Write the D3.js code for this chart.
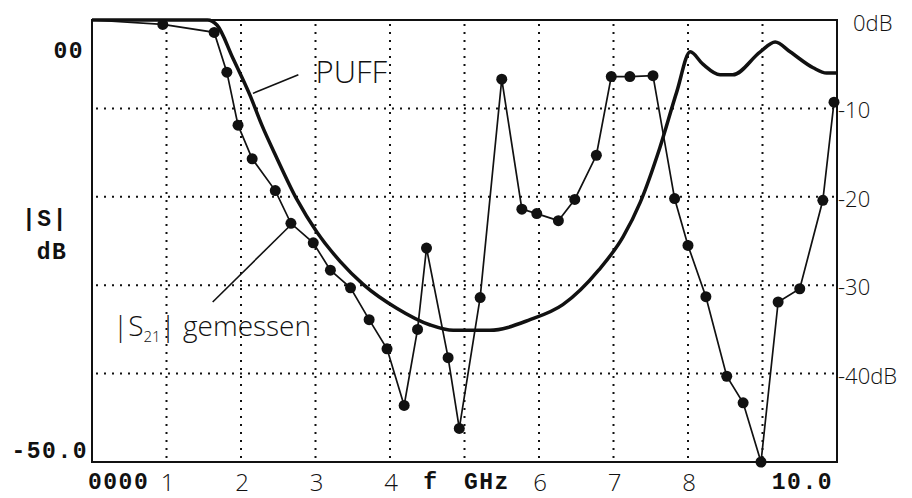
<!DOCTYPE html>
<meta charset="utf-8">
<style>
body { margin: 0; background: #fff; }
.typed { font-family: "Liberation Mono", "Courier New", monospace; font-weight: bold; font-size: 23px; letter-spacing: 1.5px; fill: #111; }
.hand { font-family: "Open Sans", "DejaVu Sans", sans-serif; font-weight: 300; fill: #111; }
.grid line { stroke: #111; stroke-width: 2; stroke-dasharray: 2,6; }
</style>
<svg width="912" height="498"></svg>
<script src="https://d3js.org/d3.v7.min.js"></script>
<script>

// measured |S21| (dots)
var freqMeas = [0, 0.95, 1.64, 1.81, 1.96, 2.15, 2.46, 2.67, 2.97, 3.20, 3.47, 3.72, 3.96, 4.19, 4.37, 4.49, 4.78, 4.93, 5.21, 5.50, 5.77, 5.97, 6.26, 6.48, 6.77, 6.97, 7.22, 7.53, 7.82, 8.00, 8.24, 8.52, 8.74, 8.98, 9.21, 9.50, 9.81, 9.96];
var s21Meas  = [0, -0.5, -1.4, -5.9, -11.9, -15.7, -19.3, -23.0, -25.2, -28.3, -30.3, -33.9, -37.2, -43.6, -35.0, -25.8, -38.2, -46.2, -31.4, -6.7, -21.4, -21.9, -22.7, -20.3, -15.3, -6.4, -6.4, -6.3, -20.2, -25.5, -31.3, -40.3, -43.3, -50.0, -31.9, -30.4, -20.4, -9.3];

// PUFF simulation (thick line)
var freqPuff = [0, 1.55, 1.68, 1.89, 2.12, 2.28, 2.48, 2.75, 3.02, 3.33, 3.64, 4.09, 4.54, 4.85, 5.34, 5.88, 6.32, 6.80, 7.13, 7.36, 7.62, 7.85, 8.03, 8.20, 8.43, 8.60, 8.97, 9.17, 9.37, 9.68, 9.86, 10];
var s21Puff  = [0, 0, -0.6, -4.3, -8.5, -11.9, -15.6, -20.3, -24.0, -27.3, -29.9, -32.6, -34.5, -35.1, -35.1, -33.9, -32.2, -28.3, -24.5, -20.6, -14.5, -8.1, -3.6, -5.0, -6.2, -6.2, -3.6, -2.5, -3.6, -5.4, -6.0, -6.0];

var xGrid = [1, 2, 3, 4, 5, 6, 7, 8, 9];
var yGrid = [-10, -20, -30, -40];
var handXTicks = [1, 2, 3, 4, 6, 7, 8];
var handXLabels = ["1", "2", "3", "4", "6", "7", "8"];
var rightTicks = [0, -10, -20, -30, -40];
var rightLabels = ["0dB", "-10", "-20", "-30", "-40dB"];

var svg = d3.select("svg");

var x = d3.scaleLinear().domain([0, 10]).range([92, 837]);
var y = d3.scaleLinear().domain([-50, 0]).range([462, 20]);

var meas = freqMeas.map(function(f, i) { return {f: f, v: s21Meas[i]}; });
var puff = freqPuff.map(function(f, i) { return {f: f, v: s21Puff[i]}; });

// grid
var grid = svg.append("g").attr("class", "grid");
grid.selectAll(".vx").data(xGrid).enter().append("line")
    .attr("x1", function(d) { return x(d); }).attr("x2", function(d) { return x(d); })
    .attr("y1", y(0) + 4).attr("y2", y(-50));
grid.selectAll(".hy").data(yGrid).enter().append("line")
    .attr("x1", x(0) + 4).attr("x2", x(10))
    .attr("y1", function(d) { return y(d); }).attr("y2", function(d) { return y(d); });

// frame
svg.append("rect")
    .attr("x", x(0)).attr("y", y(0))
    .attr("width", x(10) - x(0)).attr("height", y(-50) - y(0))
    .attr("fill", "none").attr("stroke", "#111").attr("stroke-width", 2);

var line = d3.line()
    .x(function(d) { return x(d.f); })
    .y(function(d) { return y(d.v); });

svg.append("path")
    .datum(puff)
    .attr("fill", "none").attr("stroke", "#111").attr("stroke-width", 3.5)
    .attr("stroke-linejoin", "round")
    .attr("d", line.curve(d3.curveMonotoneX));

svg.append("path")
    .datum(meas)
    .attr("fill", "none").attr("stroke", "#111").attr("stroke-width", 1.7)
    .attr("d", d3.line().x(function(d) { return x(d.f); }).y(function(d) { return y(d.v); }));

svg.append("g").selectAll("circle")
    .data(meas.filter(function(d) { return d.f > 0; }))
  .enter().append("circle")
    .attr("cx", function(d) { return x(d.f); })
    .attr("cy", function(d) { return y(d.v); })
    .attr("r", 5.5)
    .attr("fill", "#111");

// typed axis labels
svg.append("text").attr("class", "typed").attr("x", x(0) - 8).attr("y", y(0) + 38)
    .attr("text-anchor", "end").text("00");
svg.append("text").attr("class", "typed").attr("x", x(0) - 4).attr("y", y(-50) - 4)
    .attr("text-anchor", "end").text("-50.0");
svg.append("text").attr("class", "typed").attr("x", 45).attr("y", 226)
    .attr("text-anchor", "middle").text("|S|");
svg.append("text").attr("class", "typed").attr("x", 52).attr("y", 259)
    .attr("text-anchor", "middle").text("dB");
svg.append("text").attr("class", "typed").attr("x", x(0) - 4).attr("y", 489).text("0000");
svg.append("text").attr("class", "typed").attr("x", x(4.55)).attr("y", 489)
    .attr("text-anchor", "middle").text("f");
svg.append("text").attr("class", "typed").attr("x", x(5.3)).attr("y", 489)
    .attr("text-anchor", "middle").text("GHz");
svg.append("text").attr("class", "typed").attr("x", x(10) - 4).attr("y", 489)
    .attr("text-anchor", "end").text("10.0");

// handwritten tick labels
svg.append("g").selectAll("text")
    .data(handXTicks)
  .enter().append("text")
    .attr("class", "hand")
    .attr("x", function(d) { return x(d) + 1; })
    .attr("y", 491)
    .attr("text-anchor", "middle")
    .style("font-size", "24px")
    .text(function(d, i) { return handXLabels[i]; });

svg.append("g").selectAll("text")
    .data(rightTicks)
  .enter().append("text")
    .attr("class", "hand")
    .attr("x", function(d) { return d === 0 ? x(10) + 16 : x(10) + 1; })
    .attr("y", function(d) { return y(d) + (d === 0 ? 11 : 10); })
    .style("font-size", "22px")
    .text(function(d, i) { return rightLabels[i]; });

// annotations
svg.append("line")
    .attr("x1", x(2.16)).attr("y1", y(-8.3))
    .attr("x2", x(2.77)).attr("y2", y(-6.2))
    .attr("stroke", "#111").attr("stroke-width", 1.6);
svg.append("text").attr("class", "hand")
    .attr("x", x(3.0)).attr("y", 83)
    .style("font-size", "31px")
    .text("PUFF");

svg.append("line")
    .attr("x1", x(1.62)).attr("y1", y(-31.9))
    .attr("x2", x(2.63)).attr("y2", y(-23.5))
    .attr("stroke", "#111").attr("stroke-width", 1.6);
var lab = svg.append("text").attr("class", "hand")
    .attr("x", 113).attr("y", 336)
    .style("font-size", "28px");
lab.append("tspan").text("|S");
lab.append("tspan").attr("dy", 6).style("font-size", "15px").text("21");
lab.append("tspan").attr("dy", -6).text("| gemessen");

</script>
